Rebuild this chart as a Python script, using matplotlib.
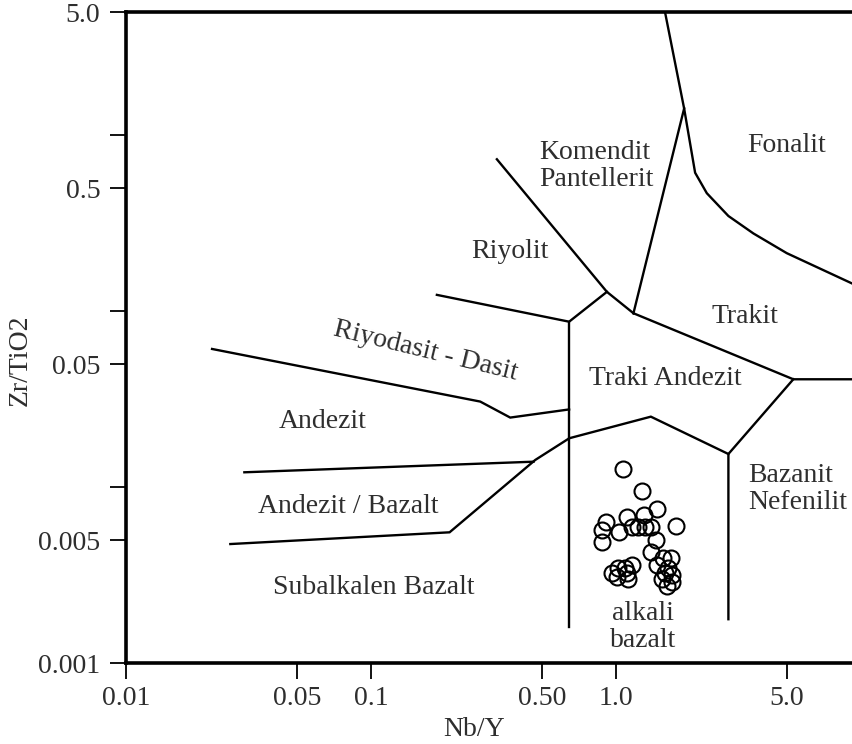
import numpy as np
import matplotlib
matplotlib.use("Agg")
import matplotlib.pyplot as plt

plt.rcParams['font.family'] = ['Liberation Serif', 'DejaVu Serif']

# Nb/Y vs Zr/TiO2 values of the samples
nb_y = [1.069, 1.278, 1.472, 1.759, 0.911, 0.882, 0.878, 1.035, 1.110, 1.310,
        1.163, 1.238, 1.318, 1.395, 1.462, 1.395, 1.566, 1.683, 1.472, 1.641,
        1.591, 1.704, 1.551, 1.704, 1.617, 0.964, 1.026, 1.092, 1.163, 1.110,
        1.127, 1.010]
zr_ti = [0.0127, 0.00953, 0.00754, 0.00605, 0.00638, 0.00572, 0.00487, 0.0056,
         0.00681, 0.00697, 0.00597, 0.00597, 0.00597, 0.00597, 0.00502, 0.0043,
         0.00395, 0.00395, 0.00362, 0.00347, 0.00325, 0.00318, 0.00301, 0.00291,
         0.00276, 0.00325, 0.00347, 0.0035, 0.00362, 0.00325, 0.00301, 0.0031]

# field boundaries (Nb/Y, Zr/TiO2)
fonalit_line = [(1.591, 4.97), (1.902, 1.42), (2.109, 0.613), (2.354, 0.469),
                (2.884, 0.348), (3.648, 0.277), (4.993, 0.214), (9.22, 0.144)]
komendit_trakit = [(1.902, 1.42), (1.181, 0.0975)]
riyolit_komendit = [(0.327, 0.731), (0.920, 0.129), (1.181, 0.0975)]
riyolit_riyodasit = [(0.186, 0.124), (0.645, 0.0873), (0.920, 0.129)]
trakiandezit_left = [(0.645, 0.0873), (0.645, 0.00161)]
trakit_lower = [(1.181, 0.0975), (5.31, 0.0411), (9.22, 0.0411)]
bazanit_left = [(5.31, 0.0411), (2.884, 0.01546), (2.884, 0.00178)]
alkali_upper = [(0.646, 0.019), (1.391, 0.0252), (2.884, 0.01546)]
riyodasit_andezit = [(0.02246, 0.0611), (0.2796, 0.0307), (0.3707, 0.0249),
                     (0.645, 0.0277)]
andezit_bazalt = [(0.03043, 0.01217), (0.4614, 0.01398)]
bazalt_subalkalen = [(0.02667, 0.00476), (0.2096, 0.00555), (0.469, 0.0143),
                     (0.646, 0.019)]

boundaries = [fonalit_line, komendit_trakit, riyolit_komendit, riyolit_riyodasit,
              trakiandezit_left, trakit_lower, bazanit_left, alkali_upper,
              riyodasit_andezit, andezit_bazalt, bazalt_subalkalen]

# rock names: text, x, y, alignment, rotation
field_names = [
    ("Fonalit", 4.99, 0.873, "center", 0),
    ("Komendit\nPantellerit", 0.487, 0.669, "left", 0),
    ("Riyolit", 0.3707, 0.218, "center", 0),
    ("Trakit", 3.376, 0.094, "center", 0),
    ("Traki Andezit", 1.591, 0.0416, "center", 0),
    ("Riyodasit - Dasit", 0.168, 0.059, "center", -13.7),
    ("Andezit", 0.0637, 0.0236, "center", 0),
    ("Andezit / Bazalt", 0.0811, 0.00783, "center", 0),
    ("Subalkalen Bazalt", 0.103, 0.00268, "center", 0),
    ("Bazanit\nNefenilit", 3.47, 0.00978, "left", 0),
    ("alkali\nbazalt", 1.294, 0.00161, "center", 0),
]

x_ticks = [0.01, 0.05, 0.1, 0.5, 1.0, 5.0]
x_ticklabels = ["0.01", "0.05", "0.1", "0.50", "1.0", "5.0"]
y_ticks = [0.001, 0.005, 0.01, 0.05, 0.1, 0.5, 1.0, 5.0]
y_ticklabels = ["0.001", "0.005", "", "0.05", "", "0.5", "", "5.0"]

txt_color = "#2e2e2e"
fs = 20

fig = plt.figure(figsize=(8.52, 7.44), dpi=100)
ax = fig.add_axes([126 / 852, (744 - 663.3) / 744, (852 - 126) / 852, (663.3 - 12.3) / 744])
ax.set_xscale("log")
ax.set_yscale("log")
ax.set_xlim(0.01, 9.22)
ax.set_ylim(0.001, 5.0)

for line in boundaries:
    xs, ys = zip(*line)
    ax.plot(xs, ys, color="black", lw=1.7, solid_joinstyle="miter")

ax.plot(nb_y, zr_ti, linestyle="none", marker="o", markersize=11.5,
        markerfacecolor="none", markeredgecolor="black", markeredgewidth=1.5)

for name, x, y, ha, rot in field_names:
    ax.text(x, y, name, ha=ha, va="center", rotation=rot, fontsize=fs,
            color=txt_color, linespacing=1.1, multialignment=ha)

ax.set_xticks(x_ticks)
ax.set_xticklabels(x_ticklabels)
ax.set_yticks(y_ticks)
ax.set_yticklabels(y_ticklabels)
ax.minorticks_off()
ax.tick_params(axis="both", length=11.5, width=1.3, labelsize=fs, labelcolor=txt_color)
ax.tick_params(axis="x", pad=5)
ax.tick_params(axis="y", pad=7)

for side in ["left", "bottom", "top"]:
    ax.spines[side].set_linewidth(2.6)
ax.spines["right"].set_visible(False)

ax.set_xlabel("Nb/Y", fontsize=fs, color=txt_color)
ax.set_ylabel("Zr/TiO2", fontsize=fs, color=txt_color)
ax.xaxis.set_label_coords(0.479, -0.083)
ax.yaxis.set_label_coords(-0.128, 0.466)

fig.savefig("out.png", dpi=100)
